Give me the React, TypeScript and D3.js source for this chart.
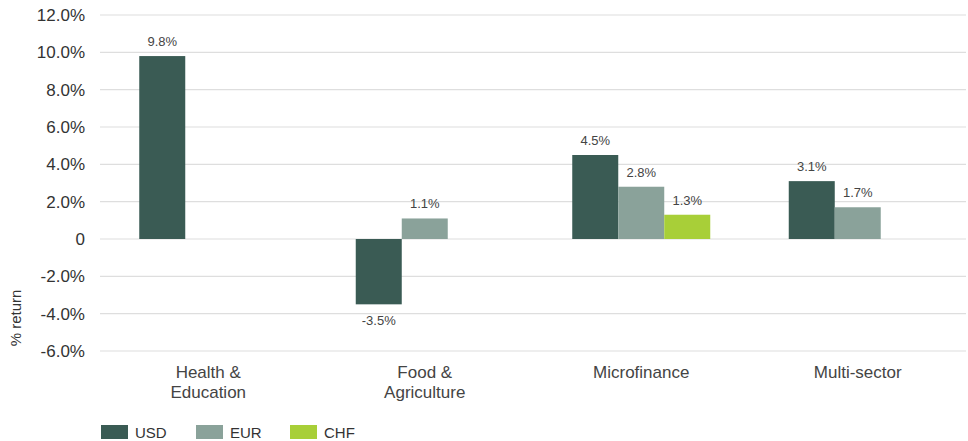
import React from 'react';
import * as d3 from 'd3';

const categories = [['Health &', 'Education'], ['Food &', 'Agriculture'], ['Microfinance'], ['Multi-sector']];
const seriesNames = ['USD', 'EUR', 'CHF'];
const usdValues = [9.8, -3.5, 4.5, 3.1];
const eurValues = [null, 1.1, 2.8, 1.7];
const chfValues = [null, null, 1.3, null];
const yTicks = [-6, -4, -2, 0, 2, 4, 6, 8, 10, 12];
const colors = ['#3a5b54', '#8aa29a', '#a8cf38'];

const width = 968;
const height = 441;
const font = '"Liberation Sans", Arial, sans-serif';

const App: React.FC = () => {
  const x = d3.scaleBand<number>()
    .domain(d3.range(categories.length))
    .range([100, 966]);

  const y = d3.scaleLinear()
    .domain([-6, 12])
    .range([351, 15]);

  const barW = 46;
  const series = [usdValues, eurValues, chfValues];
  const fmt = (v: number) => (v === 0 ? '0' : `${v.toFixed(1)}%`);

  return (
    <svg width={width} height={height} style={{ position: 'absolute', left: 0, top: 0 }} fontFamily={font}>
      {/* grid + y labels */}
      {yTicks.map(t => (
        <g key={t}>
          <line x1={100} x2={966} y1={y(t)} y2={y(t)} stroke="#dedede" strokeWidth={1.2} />
          <text x={85} y={y(t)} dy="0.35em" textAnchor="end" fontSize={17} fill="#333">{fmt(t)}</text>
        </g>
      ))}
      <text transform="translate(21,318) rotate(-90)" textAnchor="middle" fontSize={15} fill="#333">% return</text>

      {/* bars */}
      {series.map((vals, si) => vals.map((v, ci) => {
        if (v == null) return null;
        const cx = (x(ci) as number) + x.bandwidth() / 2 - (3 * barW) / 2 + si * barW;
        const y0 = y(0);
        const yv = y(v);
        return (
          <g key={`${si}-${ci}`}>
            <rect x={cx} y={Math.min(y0, yv)} width={barW} height={Math.abs(yv - y0)} fill={colors[si]} />
            <text
              x={cx + barW / 2}
              y={v >= 0 ? yv - 10 : yv + 21}
              textAnchor="middle"
              fontSize={13}
              fill="#444"
            >{`${v.toFixed(1)}%`}</text>
          </g>
        );
      }))}

      {/* category labels */}
      {categories.map((lines, ci) => (
        <text key={ci} textAnchor="middle" fontSize={17} fill="#444">
          {lines.map((l, li) => (
            <tspan key={li} x={(x(ci) as number) + x.bandwidth() / 2} y={378 + li * 20}>{l}</tspan>
          ))}
        </text>
      ))}

      {/* legend */}
      {seriesNames.map((name, i) => {
        const lx = [101, 196, 290][i];
        return (
          <g key={name}>
            <rect x={lx} y={425} width={27} height={14} fill={colors[i]} />
            <text x={lx + 34} y={438} fontSize={15} fill="#333">{name}</text>
          </g>
        );
      })}
    </svg>
  );
};

export default App;
